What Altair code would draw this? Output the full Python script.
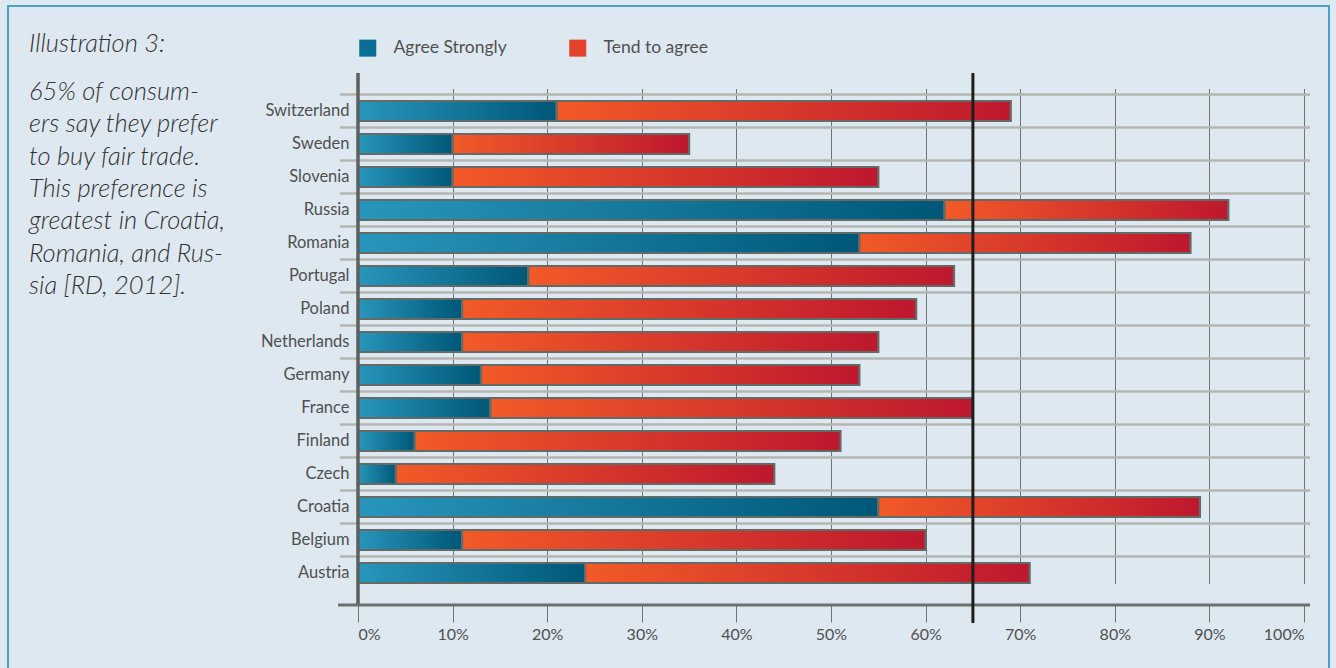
import altair as alt
import pandas as pd

countries = ["Switzerland", "Sweden", "Slovenia", "Russia", "Romania", "Portugal",
             "Poland", "Netherlands", "Germany", "France", "Finland", "Czech",
             "Croatia", "Belgium", "Austria"]
agree_strongly = [21, 10, 10, 62, 53, 18, 11, 11, 13, 14, 6, 4, 55, 11, 24]
tend_to_agree = [48, 25, 45, 30, 35, 45, 48, 44, 40, 51, 45, 40, 34, 49, 47]
series_names = ["Agree Strongly", "Tend to agree"]
tick_values = [0, 10, 20, 30, 40, 50, 60, 70, 80, 90, 100]
avg_line = [65]
title_text = "Illustration 3:"
body_lines = ["65% of consum-", "ers say they prefer", "to buy fair trade.",
              "This preference is", "greatest in Croatia,", "Romania, and Rus-",
              "sia [RD, 2012]."]

rows = []
for c, a, t in zip(countries, agree_strongly, tend_to_agree):
    rows.append({"country": c, "series": series_names[0], "lo": 0, "hi": a})
    rows.append({"country": c, "series": series_names[1], "lo": a, "hi": a + t})
df = pd.DataFrame(rows)
df_c = pd.DataFrame({"country": countries})
df_one = pd.DataFrame({"k": [0]})
df_avg = pd.DataFrame({"v": avg_line})

W, H = 946, 532
FONT = "Lato"
TXT = "#505050"

yscale = alt.Scale(domain=countries, range=[21.5, 516.5], paddingInner=0, paddingOuter=0)
yaxis = alt.Axis(title=None, domain=False, ticks=False, grid=False, labelFont=FONT,
                 labelFontSize=16.5, labelColor=TXT, labelPadding=9)
xscale = alt.Scale(domain=[0, 100], nice=False, zero=False)
xaxis = alt.Axis(title=None, values=tick_values, labelExpr="datum.value + '%'",
                 grid=True, gridColor="#6f7772", gridWidth=1, domain=False,
                 tickSize=17, tickColor="#6f7772", tickWidth=1, labelFont=FONT,
                 labelFontSize=16, labelColor=TXT, labelPadding=4)

blue_grad = alt.LinearGradient(gradient="linear", x1=0, x2=1, y1=0, y2=0,
                               stops=[alt.GradientStop(offset=0, color="#2896bc"),
                                      alt.GradientStop(offset=1, color="#005777")])
red_grad = alt.LinearGradient(gradient="linear", x1=0, x2=1, y1=0, y2=0,
                              stops=[alt.GradientStop(offset=0, color="#f25a28"),
                                     alt.GradientStop(offset=1, color="#bd182e")])

border = alt.Chart(df_one).mark_rect(fill="transparent", stroke="#46a2cc", strokeWidth=2).encode(
    x=alt.value(-350), x2=alt.value(971), y=alt.value(-67), y2=alt.value(640))

hgrid = alt.Chart(df_c).mark_rule(color="#b4b6b1", strokeWidth=2.5).encode(
    y=alt.Y("country:N", scale=yscale, axis=yaxis, bandPosition=0),
    x=alt.value(-18), x2=alt.value(952))

base = alt.Chart(df).encode(
    y=alt.Y("country:N", scale=yscale, axis=yaxis),
    x=alt.X("lo:Q", scale=xscale, axis=xaxis),
    x2="hi:Q")

bars_blue = base.transform_filter(alt.datum.series == series_names[0]).mark_bar(
    fill=blue_grad, stroke="#646b66", strokeWidth=2.2, height=20)
bars_red = base.transform_filter(alt.datum.series == series_names[1]).mark_bar(
    fill=red_grad, stroke="#646b66", strokeWidth=2.2, height=20)

yline = alt.Chart(df_one).mark_rule(color="#5b615c", strokeWidth=3.5).encode(
    x=alt.datum(0), y=alt.value(0), y2=alt.value(H))
bottom_line = alt.Chart(df_one).mark_rule(color="#6b716c", strokeWidth=3).encode(
    y=alt.value(H), x=alt.value(-20), x2=alt.value(952))
avg = alt.Chart(df_avg).mark_rule(color="#1e1e1e", strokeWidth=3).encode(
    x=alt.X("v:Q"), y=alt.value(0), y2=alt.value(H + 18))

legend_layer = alt.Chart(df).transform_filter("false").mark_square().encode(
    color=alt.Color("series:N",
                    scale=alt.Scale(domain=series_names, range=["#0b6f93", "#e4432b"]),
                    legend=alt.Legend(title=None, orient="none", legendX=1, legendY=-34,
                                      direction="horizontal", symbolType="square",
                                      symbolSize=289, symbolStrokeWidth=0,
                                      symbolOpacity=1,
                                      labelFont=FONT, labelFontSize=17.5, labelColor=TXT,
                                      labelOffset=17, columnPadding=62, padding=0)))

title = alt.Chart(df_one).mark_text(text=title_text, font=FONT, fontSize=25.5, fontStyle="italic",
                                    fontWeight=300, color="#333333", align="left",
                                    baseline="alphabetic").encode(
    x=alt.value(-329), y=alt.value(-21))
body = alt.Chart(df_one).mark_text(text=body_lines, font=FONT, fontSize=25.5, fontStyle="italic",
                                   fontWeight=300, color="#333333", align="left",
                                   baseline="alphabetic", lineHeight=32.3).encode(
    x=alt.value(-329), y=alt.value(27))

chart = alt.layer(border, hgrid, bars_blue, bars_red, yline, bottom_line, avg,
                  legend_layer, title, body).properties(
    width=W, height=H,
    autosize=alt.AutoSizeParams(type="none"),
    padding={"left": 358, "top": 73, "right": 32, "bottom": 63},
    background="#dde8f0",
).configure_view(stroke=None)

chart.save("out.html", embed_options={"renderer": "svg", "actions": False})
